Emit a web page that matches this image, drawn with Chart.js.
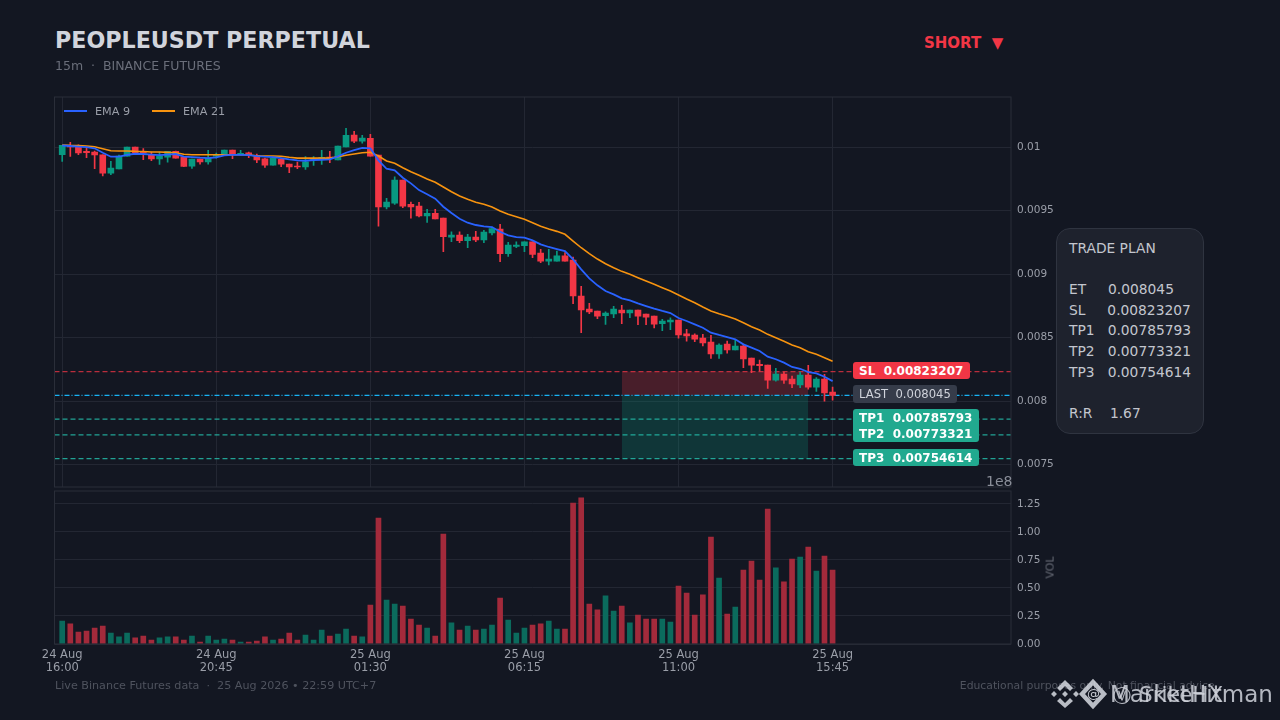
<!DOCTYPE html>
<html lang="en">
<head>
<meta charset="UTF-8">
<title>PEOPLEUSDT PERPETUAL</title>
<style>
    html, body { margin: 0; padding: 0; width: 1280px; height: 720px; overflow: hidden; background: #131722; font-family: "DejaVu Sans", sans-serif; }
    canvas { position: absolute; left: 0; }
    .txt { position: absolute; white-space: pre; }
    #title { left: 55px; top: 27px; font-size: 22.2px; font-weight: bold; color: #d1d4dc; }
    #sub { left: 55px; top: 58px; font-size: 12.5px; color: #6a6e7a; }
    #side { left: 924px; top: 34px; font-size: 15px; font-weight: bold; color: #f23645; }
    .tag { position: absolute; left: 853px; box-sizing: border-box; padding-left: 6px; border-radius: 3px; font-size: 12px; font-weight: bold; color: #fff; white-space: pre; }
    #plan { position: absolute; left: 1056px; top: 228px; width: 148px; height: 206px; box-sizing: border-box; background: #1e222d; border: 1px solid #2f3440; border-radius: 14px; color: #c3c6ce; font-size: 13.8px; line-height: 20.6px; padding: 9px 0 0 12px; white-space: pre; }
    #foot-l { left: 55px; top: 679px; font-size: 11.15px; color: #4f535e; }
    #foot-r { right: 62px; top: 679px; font-size: 10.8px; color: #4f535e; }
    #expo { left: 986px; top: 473px; font-size: 14px; color: #8a8e99; }
    #vol-lbl { left: 1039px; top: 561px; font-size: 11px; color: #666a75; transform: rotate(-90deg); }
    .wm { color: #d1d4dc; opacity: .85; font-size: 23px; }
    .lg-line { position: absolute; top: 110px; width: 23px; height: 2px; }
    .lg-txt { top: 105px; font-size: 11.2px; color: #9a9ea8; }
</style>
</head>
<body>
<canvas id="price" width="1280" height="405" style="top:90px"></canvas>
<canvas id="volume" width="1280" height="195" style="top:486px"></canvas>

<div class="lg-line" style="left:64px;background:#2962ff"></div>
<div class="txt lg-txt" style="left:95px">EMA 9</div>
<div class="lg-line" style="left:152px;background:#f7930f"></div>
<div class="txt lg-txt" style="left:183px">EMA 21</div>

<div class="txt" id="title">PEOPLEUSDT PERPETUAL</div>
<div class="txt" id="sub">15m  ·  BINANCE FUTURES</div>
<div class="txt" id="side">SHORT  ▼</div>

<div class="tag" style="top:362px;width:117px;height:17px;line-height:18px;background:#f23645">SL  0.00823207</div>
<div class="tag" style="top:385px;width:104px;height:18px;line-height:18px;background:#363c4a;color:#d1d4dc;font-weight:normal;font-size:11.6px">LAST  0.008045</div>
<div class="tag" style="top:409px;width:126px;height:33px;line-height:16px;padding-top:1px;background:#21a98f">TP1  0.00785793
TP2  0.00773321</div>
<div class="tag" style="top:449px;width:126px;height:17px;line-height:18px;background:#21a98f">TP3  0.00754614</div>

<div id="plan">TRADE PLAN

ET     0.008045
SL     0.00823207
TP1   0.00785793
TP2   0.00773321
TP3   0.00754614

R:R    1.67</div>

<div class="txt" id="expo">1e8</div>
<div class="txt" id="vol-lbl">VOL</div>
<div class="txt" id="foot-l">Live Binance Futures data  ·  25 Aug 2026 • 22:59 UTC+7</div>
<div class="txt" id="foot-r">Educational purposes only. Not financial advice.</div>

<svg style="position:absolute;left:1048px;top:678px;opacity:.85" width="60" height="32" viewBox="0 0 60 32">
    <g fill="#d8dbe2">
        <path d="M17 2l8 8-3 3-5-5-5 5-3-3zM17 30l8-7-3-3-5 5-5-5-3 3z"/>
        <path d="M6 13l3 3-3 3-3-3zM28 13l3 3-3 3-3-3zM17 13l3 3-3 3-3-3z"/>
    </g>
    <path d="M45 4l11 12-11 12-11-12z" fill="none" stroke="#d8dbe2" stroke-width="4.5"/>
</svg>
<div class="txt" style="left:1087px;top:686px;font-size:13px;color:#c9ccd3">@</div>
<div class="txt wm" style="left:1110px;top:681px">MarketHitman</div>
<div class="txt wm" style="left:1113px;top:684px;font-size:18px">Ⓥ</div>
<div class="txt wm" style="left:1139px;top:682px;font-size:21.5px">SrikeHX</div>

<script src="https://cdn.jsdelivr.net/npm/chart.js@4/dist/chart.umd.min.js"></script>
<script>
    // prices are in millionths of a USDT
    const openPrice = [
        9939,10013,10000,9966,9961,9939,9795,9827,9929,10000,
        9961,9937,9906,9921,9966,9921,9850,9906,9882,9929,
        9939,9976,9939,9955,9935,9908,9858,9903,9866,9850,
        9843,9898,9911,9921,9898,10000,10094,10047,10069,9937,
        9528,9557,9740,9549,9535,9457,9478,9441,9291,9307,
        9262,9291,9268,9323,9354,9160,9218,9223,9254,9165,
        9102,9102,9144,9110,8827,8724,8709,8672,8685,8717,
        8693,8717,8685,8669,8609,8622,8638,8530,8520,8496,
        8465,8370,8449,8402,8433,8339,8289,8283,8165,8213,
        8173,8126,8205,8110,8173,8071]
    const closePrice = [
        10013,10000,9953,9955,9937,9795,9835,9929,10000,9953,
        9953,9906,9929,9966,9913,9848,9906,9882,9911,9937,
        9976,9939,9950,9939,9898,9858,9913,9866,9843,9843,
        9884,9903,9913,9913,10008,10092,10047,10071,9929,9528,
        9567,9740,9535,9528,9457,9478,9433,9294,9307,9262,
        9291,9268,9331,9357,9160,9228,9228,9254,9155,9102,
        9118,9144,9102,8827,8717,8701,8669,8693,8724,8693,
        8717,8669,8661,8606,8630,8638,8520,8512,8488,8457,
        8370,8441,8402,8433,8331,8283,8278,8165,8213,8165,
        8134,8205,8110,8173,8063,8045]
    const highPrice = [
        10013,10037,10018,10002,9969,9939,9887,9937,10000,10000,
        9987,9961,9961,9966,9969,9921,9906,9906,9974,9953,
        9976,9976,9974,9961,9945,9913,9913,9906,9866,9882,
        9924,9924,9974,9966,10008,10147,10124,10092,10100,9937,
        9596,9766,9740,9567,9565,9509,9509,9441,9333,9333,
        9312,9336,9344,9370,9392,9250,9254,9254,9254,9194,
        9194,9181,9168,9134,8903,8769,8709,8703,8746,8754,
        8717,8717,8685,8669,8643,8656,8638,8565,8530,8525,
        8517,8451,8472,8480,8449,8339,8323,8283,8258,8228,
        8197,8228,8281,8184,8210,8110]
    const lowPrice = [
        9887,9927,9939,9916,9829,9772,9782,9827,9929,9945,
        9900,9892,9864,9880,9913,9845,9832,9866,9866,9913,
        9939,9908,9937,9916,9876,9840,9858,9845,9798,9829,
        9824,9856,9864,9876,9898,10000,10034,10031,9929,9376,
        9512,9549,9522,9439,9449,9407,9433,9176,9254,9246,
        9207,9254,9246,9307,9097,9139,9207,9176,9128,9089,
        9071,9102,9102,8766,8538,8687,8648,8604,8656,8609,
        8656,8601,8601,8575,8554,8562,8494,8472,8467,8433,
        8336,8336,8376,8402,8262,8223,8236,8100,8157,8139,
        8105,8105,8094,8076,7998,8006]
    const ema9 = [
        10012,10008,10004,10000,9990,9955,9924,9924,9939,9947,
        9945,9941,9937,9941,9945,9924,9921,9916,9913,9919,
        9935,9939,9939,9937,9929,9924,9921,9913,9903,9895,
        9892,9898,9900,9903,9927,9955,9976,9994,9990,9895,
        9829,9817,9758,9714,9661,9628,9593,9530,9480,9435,
        9404,9386,9376,9370,9333,9305,9291,9286,9265,9234,
        9213,9197,9181,9116,9037,8966,8911,8866,8840,8809,
        8793,8769,8748,8727,8709,8693,8654,8630,8604,8577,
        8538,8520,8504,8486,8446,8420,8394,8349,8329,8302,
        8268,8254,8228,8218,8191,8157]
    const ema21 = [
        10016,10013,10012,10008,10002,9987,9971,9969,9969,9966,
        9965,9961,9961,9958,9955,9943,9939,9939,9939,9939,
        9939,9939,9939,9937,9931,9929,9929,9927,9919,9913,
        9913,9913,9913,9913,9924,9935,9945,9955,9959,9929,
        9890,9872,9837,9806,9778,9748,9722,9685,9648,9614,
        9588,9565,9549,9528,9496,9470,9451,9431,9404,9376,
        9354,9336,9313,9260,9207,9160,9118,9081,9050,9021,
        8998,8971,8945,8919,8892,8866,8835,8803,8774,8740,
        8709,8687,8667,8646,8617,8585,8559,8525,8498,8470,
        8441,8420,8388,8368,8341,8313]
    // volume, in units of 1e8
    const volume = [
        .205,.179,.107,.116,.143,.161,.098,.063,.098,.054,
        .071,.036,.054,.063,.063,.036,.071,.018,.071,.036,
        .045,.036,.018,.018,.027,.063,.036,.045,.098,.036,
        .080,.036,.125,.071,.089,.134,.071,.063,.348,1.125,
        .393,.357,.339,.223,.170,.143,.071,.982,.188,.125,
        .161,.125,.134,.170,.411,.214,.098,.143,.170,.179,
        .205,.134,.134,1.259,1.304,.357,.304,.429,.295,.339,
        .188,.259,.223,.223,.223,.196,.518,.455,.259,.438,
        .955,.589,.268,.330,.661,.741,.571,1.205,.679,.554,
        .759,.777,.866,.652,.786,.661]

    const tickIndex = [0, 19, 38, 57, 76, 95]
    const tickLabels = [["24 Aug","16:00"],["24 Aug","20:45"],["25 Aug","01:30"],["25 Aug","06:15"],["25 Aug","11:00"],["25 Aug","15:45"]]
    const priceTicks = [0.0075, 0.008, 0.0085, 0.009, 0.0095, 0.01]
    const priceTickLabels = ["0.0075", "0.008", "0.0085", "0.009", "0.0095", "0.01"]
    const volTicks = [0, 0.25, 0.5, 0.75, 1, 1.25]

    const entry = 0.008045
    const stopLoss = 0.00823207
    const tp1 = 0.00785793
    const tp2 = 0.00773321
    const tp3 = 0.00754614
    const zoneStart = 69, zoneEnd = 92

    const xMin = -0.95, xMax = 117
    const priceMin = 0.007323, priceMax = 0.010394
    const volMax = 1.366

    const UP = "#089981", DOWN = "#f23645"
    const VOL_UP = "#0b6b5d", VOL_DOWN = "#a32a3b"
    const GRID = "#232733", FRAME = "#2a2e39", TICK = "#9a9ea8"

    Chart.defaults.font.family = '"DejaVu Sans", sans-serif'
    Chart.defaults.animation = false
    Chart.defaults.devicePixelRatio = 1

    const isUp = openPrice.map((o, i) => closePrice[i] >= o)
    const micro = v => v / 1e6

    // frame round the plot area
    const frame = {
        id: "frame",
        afterDraw(chart) {
            const a = chart.chartArea, c = chart.ctx
            c.save()
            c.strokeStyle = FRAME
            c.lineWidth = 1
            c.strokeRect(a.left, a.top, a.right - a.left, a.bottom - a.top)
            c.restore()
        }
    }

    // fixed axis boxes, and no room kept for label overhang
    function fitBox(s, size) {
        if (s.isHorizontal()) s.height = size; else s.width = size
        s.paddingTop = s.paddingBottom = s.paddingLeft = s.paddingRight = 0
    }

    function hLine(price, color, dash, order) {
        return { type: "line", label: "", data: [{x: xMin, y: price}, {x: xMax, y: price}], borderColor: color, borderWidth: 1.2,
                 borderDash: dash, pointRadius: 0, order: order }
    }
    function zone(from, to, color) {
        return { type: "line", label: "", data: [{x: zoneStart, y: from}, {x: zoneEnd, y: from}], borderWidth: 0, pointRadius: 0,
                 fill: {value: to}, backgroundColor: color, order: 9 }
    }

    new Chart("price", {
        plugins: [frame],
        data: {
            datasets: [
                zone(stopLoss, entry, "rgba(242,54,69,0.24)"),
                zone(entry, tp3, "rgba(8,153,129,0.24)"),
                hLine(stopLoss, "rgba(242,54,69,0.75)", [5, 3], 8),
                hLine(entry, "#18b4f5", [5, 2, 1, 2], 8),
                hLine(tp1, "rgba(38,198,178,0.8)", [5, 3], 8),
                hLine(tp2, "rgba(38,198,178,0.8)", [5, 3], 8),
                hLine(tp3, "rgba(38,198,178,0.8)", [5, 3], 8),
                { type: "bar", label: "", order: 4, barThickness: 1, grouped: false,
                  data: lowPrice.map((l, i) => ({x: i, y: [micro(l), micro(highPrice[i])]})),
                  backgroundColor: isUp.map(u => u ? UP : DOWN) },
                { type: "bar", label: "", order: 3, barThickness: 6, minBarLength: 1, grouped: false,
                  data: openPrice.map((o, i) => ({x: i, y: [micro(o), micro(closePrice[i])]})),
                  backgroundColor: isUp.map(u => u ? UP : DOWN) },
                { type: "line", label: "EMA 21", order: 2, data: ema21.map((v, i) => ({x: i, y: micro(v)})),
                  borderColor: "#f7930f", borderWidth: 1.6, pointRadius: 0 },
                { type: "line", label: "EMA 9", order: 1, data: ema9.map((v, i) => ({x: i, y: micro(v)})),
                  borderColor: "#2962ff", borderWidth: 1.8, pointRadius: 0 }
            ]
        },
        options: {
            responsive: false,
            layout: { padding: { left: 54.5, right: 209, top: 7, bottom: 8 } },
            plugins: { legend: { display: false }, tooltip: { enabled: false } },
            scales: {
                x: {
                    type: "linear", min: xMin, max: xMax, offset: false,
                    afterBuildTicks: s => { s.ticks = tickIndex.map(v => ({value: v})) },
                    afterFit: s => fitBox(s, 0),
                    ticks: { display: false },
                    grid: { color: GRID, drawTicks: false, offset: false },
                    border: { display: false }
                },
                y: {
                    position: "right", min: priceMin, max: priceMax,
                    afterBuildTicks: s => { s.ticks = priceTicks.map(v => ({value: v})) },
                    afterFit: s => fitBox(s, 60),
                    ticks: { color: TICK, font: { size: 10.5 }, padding: 6, callback: v => priceTickLabels[priceTicks.indexOf(v)] },
                    grid: { color: GRID, drawTicks: false },
                    border: { display: false }
                }
            }
        }
    })

    new Chart("volume", {
        type: "bar",
        plugins: [frame],
        data: {
            datasets: [{
                label: "Volume", barThickness: 5,
                data: volume.map((v, i) => ({x: i, y: v})),
                backgroundColor: isUp.map(u => u ? VOL_UP : VOL_DOWN)
            }]
        },
        options: {
            responsive: false,
            layout: { padding: { left: 54.5, right: 209, top: 5, bottom: 7 } },
            plugins: { legend: { display: false }, tooltip: { enabled: false } },
            scales: {
                x: {
                    type: "linear", min: xMin, max: xMax, offset: false,
                    afterBuildTicks: s => { s.ticks = tickIndex.map(v => ({value: v})) },
                    afterFit: s => fitBox(s, 30),
                    ticks: { color: TICK, font: { size: 11.5, lineHeight: 1.15 }, padding: 4, maxRotation: 0, autoSkip: false,
                             callback: v => tickLabels[tickIndex.indexOf(v)] },
                    grid: { display: false, drawTicks: false, offset: false },
                    border: { display: false }
                },
                y: {
                    position: "right", min: 0, max: volMax,
                    afterBuildTicks: s => { s.ticks = volTicks.map(v => ({value: v})) },
                    afterFit: s => fitBox(s, 60),
                    ticks: { color: TICK, font: { size: 10.5 }, padding: 6, callback: v => v.toFixed(2) },
                    grid: { color: GRID, drawTicks: false },
                    border: { display: false }
                }
            }
        }
    })
</script>
</body>
</html>
